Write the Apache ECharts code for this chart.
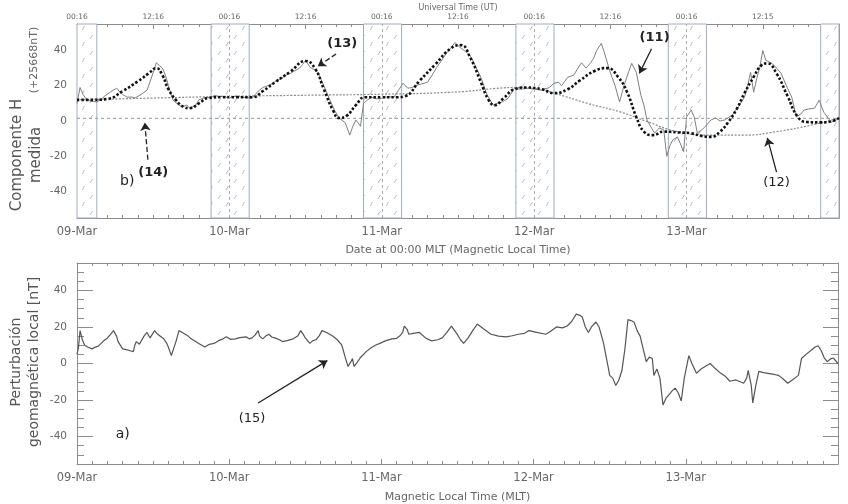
<!DOCTYPE html>
<html>
<head>
<meta charset="utf-8">
<script src="https://cdn.jsdelivr.net/npm/echarts@6/dist/echarts.min.js"></script>
<style>
  html, body { margin: 0; padding: 0; background: #fff; }
  #chart { width: 848px; height: 504px; }
</style>
</head>
<body>
<div id="chart"></div>
<script>
  // ejes
  var dias = ['09-Mar', '10-Mar', '11-Mar', '12-Mar', '13-Mar'];
  var horasUT = ['00:16', '12:16', '00:16', '12:16', '00:16', '12:16', '00:16', '12:16', '00:16', '12:15'];
  var ticksMayores = [-40, -20, 0, 20, 40];

  // franjas nocturnas (dias desde 09-Mar 00:00 MLT)
  var franjas = [[0, 0.13], [0.88, 1.13], [1.88, 2.13], [2.88, 3.13], [3.88, 4.13], [4.88, 5]];
  var medianoches = [1, 2, 3, 4];

  // (11) componente H medida
  var hMedida = [
    [0, 10], [0.02, 19], [0.04, 15], [0.06, 12.5], [0.08, 11.5], [0.11, 11], [0.13, 10.8], [0.16, 12.5],
    [0.18, 14], [0.22, 16.5], [0.26, 18.6], [0.28, 16.5], [0.3, 15], [0.33, 13.5], [0.36, 13.6], [0.38, 13],
    [0.42, 15], [0.46, 17.5], [0.49, 25], [0.51, 30], [0.52, 33], [0.54, 31.5], [0.56, 30], [0.58, 26],
    [0.6, 20], [0.63, 12], [0.66, 9.5], [0.69, 8], [0.72, 9], [0.74, 7.3], [0.78, 9], [0.8, 12],
    [0.83, 13], [0.85, 13.5], [0.88, 13], [0.9, 14.6], [0.93, 14], [0.96, 14], [0.99, 13.2], [1.02, 13.5],
    [1.05, 14.2], [1.08, 13.5], [1.12, 13.2], [1.15, 13], [1.17, 15], [1.19, 17], [1.22, 19], [1.25, 20],
    [1.28, 21], [1.31, 23], [1.34, 24], [1.37, 26], [1.4, 27], [1.42, 28], [1.46, 30], [1.48, 32],
    [1.5, 34.4], [1.53, 30.4], [1.56, 29], [1.58, 27.6], [1.62, 20], [1.66, 11.8], [1.69, 6], [1.72, 1.7],
    [1.76, -1], [1.79, -8], [1.81, -3], [1.83, 0.6], [1.86, -3], [1.88, 10], [1.9, 11.5], [1.93, 13.5],
    [1.97, 12.5], [2.0, 13], [2.04, 13.8], [2.08, 13.5], [2.11, 17.5], [2.14, 21.4], [2.17, 18.6], [2.2, 19],
    [2.22, 20], [2.26, 21], [2.3, 22], [2.33, 26], [2.36, 30.4], [2.39, 34], [2.42, 38], [2.45, 41],
    [2.48, 44.5], [2.51, 42], [2.54, 40], [2.57, 38], [2.59, 35.5], [2.62, 30], [2.65, 24.8], [2.69, 15],
    [2.73, 9], [2.76, 10], [2.79, 10.8], [2.83, 13], [2.87, 18.6], [2.91, 18], [2.96, 18.6], [3.0, 18],
    [3.05, 17.5], [3.1, 19], [3.13, 21.4], [3.16, 22], [3.18, 20], [3.22, 24.8], [3.26, 26], [3.28, 29],
    [3.31, 33], [3.34, 30], [3.37, 33], [3.39, 35.5], [3.41, 40], [3.44, 44], [3.46, 39], [3.49, 30],
    [3.51, 24.8], [3.53, 20.3], [3.56, 10.8], [3.59, 20.3], [3.62, 28], [3.64, 32.7], [3.67, 27.6], [3.7, 14.6],
    [3.72, 9], [3.74, 0.6], [3.77, -4], [3.79, -6.8], [3.82, -4], [3.85, -5], [3.87, -20], [3.89, -14],
    [3.91, -10.7], [3.94, -9], [3.96, -13], [3.98, -17.5], [4.0, 2.3], [4.03, 6.2], [4.05, 2.3], [4.07, -6.8],
    [4.1, -5], [4.12, -3.4], [4.16, 0.6], [4.19, 1.7], [4.22, 0], [4.25, 0.6], [4.3, 3.4], [4.34, 8],
    [4.38, 13.5], [4.4, 20], [4.42, 27.6], [4.44, 16.3], [4.46, 24], [4.48, 30.4], [4.5, 40], [4.52, 34.4],
    [4.56, 32.7], [4.59, 30], [4.62, 27], [4.66, 19], [4.69, 13.5], [4.72, 2.3], [4.75, 4], [4.77, 6.2],
    [4.8, 6.8], [4.84, 7.3], [4.87, 11.8], [4.9, 5], [4.93, 1.5], [4.95, -0.6], [4.98, 0.5], [5.0, 1.5]
  ];

  // (13) ajuste de la variacion diaria
  var hAjuste = [
    [0, 12], [0.1, 12], [0.2, 12.5], [0.3, 17], [0.4, 22.5], [0.47, 27], [0.52, 30], [0.56, 26],
    [0.6, 18], [0.65, 11.8], [0.7, 8], [0.74, 7.3], [0.8, 10], [0.86, 13], [0.95, 13.5], [1.05, 13.5],
    [1.15, 13.5], [1.22, 17], [1.3, 22], [1.4, 28], [1.5, 34], [1.56, 30], [1.62, 18], [1.68, 6],
    [1.72, 1.7], [1.77, 3], [1.83, 9], [1.89, 13.5], [2.0, 13.5], [2.1, 13.5], [2.15, 14], [2.25, 23],
    [2.35, 32], [2.45, 41], [2.52, 43], [2.58, 36], [2.65, 22], [2.7, 12], [2.74, 9], [2.8, 13],
    [2.87, 18], [2.95, 19], [3.05, 18], [3.13, 15.8], [3.22, 18], [3.3, 23], [3.4, 28.5], [3.48, 30],
    [3.55, 25], [3.61, 16.3], [3.67, 2.3], [3.72, -6], [3.78, -8], [3.85, -6], [3.95, -6.5], [4.03, -7],
    [4.1, -8.5], [4.16, -9], [4.22, -6], [4.27, -1], [4.33, 7], [4.38, 15.8], [4.44, 25], [4.49, 31.5],
    [4.53, 32.7], [4.59, 27], [4.66, 14.6], [4.73, 2.3], [4.79, -0.6], [4.88, -0.8], [4.95, -0.2], [5.0, 1.7]
  ];

  // (12) linea base lenta
  var hBase = [
    [0, 12], [0.5, 13], [1, 14], [1.5, 14.6], [2, 15.2], [2.5, 16.5], [2.75, 18.5], [2.9, 19],
    [3.0, 18.5], [3.13, 15.8], [3.35, 10], [3.57, 5], [3.73, 0], [3.94, -6], [4.16, -8], [4.38, -8],
    [4.59, -6], [4.82, -2.3], [5, 1.7]
  ];

  // (14) nivel de referencia
  var nivelCero = [[0, 1.5], [5, 1.5]];

  // (15) perturbacion geomagnetica local
  var perturbacion = [
    [0, 5], [0.01, 9], [0.02, 18], [0.035, 13], [0.05, 10], [0.07, 9], [0.1, 8], [0.12, 9], [0.14, 9.5],
    [0.17, 12], [0.2, 14], [0.22, 16], [0.24, 18], [0.26, 15], [0.27, 12], [0.3, 8], [0.33, 7.5],
    [0.35, 7], [0.37, 6.5], [0.38, 10], [0.39, 12], [0.41, 10.5], [0.42, 11], [0.44, 15], [0.46, 17],
    [0.48, 14], [0.49, 15], [0.51, 18], [0.53, 16], [0.54, 15], [0.57, 13.5], [0.59, 11], [0.6, 9],
    [0.62, 4.3], [0.63, 5], [0.65, 12], [0.67, 18], [0.7, 16.5], [0.73, 15], [0.75, 13.5], [0.78, 12],
    [0.8, 11], [0.82, 10], [0.84, 9], [0.87, 10.5], [0.9, 11], [0.93, 12.5], [0.96, 13.5], [0.98, 14.6],
    [1.01, 13.2], [1.04, 13.5], [1.07, 14.2], [1.11, 14.6], [1.13, 13.5], [1.15, 14], [1.17, 15.5], [1.19, 18],
    [1.2, 15], [1.22, 13.5], [1.24, 15], [1.26, 16], [1.28, 14.5], [1.3, 14], [1.33, 13], [1.35, 12],
    [1.38, 12.5], [1.42, 13.5], [1.45, 15], [1.47, 18], [1.49, 15.5], [1.5, 14], [1.53, 11], [1.55, 12.5],
    [1.57, 13], [1.59, 15], [1.61, 18], [1.64, 17], [1.68, 15], [1.71, 13], [1.74, 10], [1.76, 4],
    [1.78, -1.6], [1.8, 1], [1.81, 2.7], [1.82, -1.6], [1.84, 0.5], [1.86, 3], [1.9, 6.5], [1.93, 8.5],
    [1.96, 10], [1.99, 11], [2.03, 12.5], [2.07, 13.5], [2.1, 13.8], [2.12, 15], [2.14, 17], [2.15, 20.5],
    [2.17, 18.5], [2.18, 16], [2.21, 16.5], [2.25, 17], [2.29, 14], [2.33, 12.4], [2.37, 13], [2.4, 14],
    [2.43, 17], [2.46, 20.5], [2.49, 17], [2.52, 13], [2.54, 11], [2.57, 14], [2.6, 18], [2.63, 21.6],
    [2.67, 19], [2.72, 16], [2.77, 15], [2.82, 14.6], [2.86, 15.2], [2.9, 16], [2.94, 16.5], [2.97, 18],
    [3.02, 17], [3.08, 16], [3.11, 17.5], [3.15, 20], [3.19, 19.5], [3.22, 20.5], [3.25, 23], [3.28, 27],
    [3.3, 26.5], [3.32, 25.4], [3.34, 20], [3.36, 17], [3.38, 20], [3.41, 22.7], [3.43, 20], [3.44, 17],
    [3.46, 11], [3.47, 6.5], [3.49, -2], [3.5, -6.5], [3.52, -8], [3.54, -12], [3.56, -9], [3.58, -4],
    [3.6, 8], [3.62, 24], [3.64, 23.5], [3.66, 22.7], [3.68, 18], [3.7, 15], [3.72, 8], [3.74, 1],
    [3.76, 3.5], [3.78, 2.7], [3.79, -6.5], [3.81, -3], [3.83, -8], [3.85, -22.7], [3.87, -19], [3.89, -17],
    [3.91, -15], [3.93, -13.5], [3.95, -16], [3.97, -20.5], [3.99, -8], [4.02, 4.3], [4.04, 0], [4.07, -5.4],
    [4.1, -3], [4.13, -1.5], [4.16, 0], [4.19, -2.5], [4.23, -5.4], [4.26, -7], [4.29, -9.7], [4.33, -9],
    [4.38, -10.8], [4.4, -8], [4.41, -3.8], [4.43, -12], [4.44, -21.6], [4.46, -12], [4.48, -4.3], [4.51, -5],
    [4.54, -5.4], [4.58, -6], [4.61, -6.5], [4.64, -8.5], [4.67, -10.8], [4.7, -9], [4.74, -6.5], [4.76, 2.7],
    [4.79, 5], [4.82, 7], [4.85, 9], [4.87, 9.7], [4.89, 7], [4.91, 3], [4.93, 1], [4.95, 2.5], [4.97, 3], [5, 0]
  ];

  var gris = '#8c8c8c';
  var texto = '#666';
  var fuente = 'DejaVu Sans';

  function rayado() {
    var c = document.createElement('canvas');
    c.width = 16; c.height = 16;
    var g = c.getContext('2d');
    g.fillStyle = '#fff';
    g.fillRect(0, 0, 16, 16);
    g.strokeStyle = '#b4b9c9';
    g.lineWidth = 1;
    g.beginPath();
    g.moveTo(2, 14); g.lineTo(4.5, 10);
    g.moveTo(10, 7); g.lineTo(12.5, 3);
    g.stroke();
    return c;
  }

  function ejeX(grid, pos, extra) {
    var eje = {
      gridIndex: grid, type: 'value', position: pos, min: 0, max: 5, interval: 1,
      splitLine: { show: false },
      axisLine: { onZero: false, lineStyle: { color: gris } },
      axisTick: { inside: true, length: 5, lineStyle: { color: gris } },
      minorTick: { show: true, splitNumber: 10, length: 3, lineStyle: { color: gris } },
      axisLabel: { show: false }
    };
    return Object.assign(eje, extra || {});
  }

  function ejesY(grid) {
    var base = { gridIndex: grid, type: 'value', min: -55, max: 55, interval: 5, splitLine: { show: false } };
    return [
      Object.assign({}, base, {
        position: 'left',
        axisLine: { show: true, onZero: false, lineStyle: { color: gris } },
        axisTick: { inside: true, length: 7, lineStyle: { color: gris } },
        axisLabel: { customValues: ticksMayores, color: texto, fontSize: 10.5, fontFamily: fuente, margin: 10 }
      }),
      Object.assign({}, base, {
        position: 'left',
        axisLine: { show: false, onZero: false },
        axisTick: { inside: true, length: 16, customValues: ticksMayores, lineStyle: { color: gris } },
        axisLabel: { show: false }
      }),
      Object.assign({}, base, {
        position: 'right',
        axisLine: { show: true, onZero: false, lineStyle: { color: gris } },
        axisTick: { inside: true, length: 7, lineStyle: { color: gris } },
        axisLabel: { show: false }
      }),
      Object.assign({}, base, {
        position: 'right',
        axisLine: { show: false, onZero: false },
        axisTick: { inside: true, length: 15, customValues: ticksMayores, lineStyle: { color: gris } },
        axisLabel: { show: false }
      })
    ];
  }

  var etiquetaDia = {
    formatter: function (v) { return dias[Math.round(v)] || ''; },
    showMaxLabel: false, color: texto, fontSize: 11.5, fontFamily: fuente, margin: 8
  };

  function flecha(desde, hasta, tipo) {
    return [
      { coord: desde, lineStyle: { type: tipo, color: '#222', width: 1.3 } },
      { coord: hasta }
    ];
  }

  function rotulo(nombre, pos, peso, tam) {
    return {
      name: nombre, coord: pos,
      label: { fontWeight: peso, fontSize: tam || 13 }
    };
  }

  var marcaRotulos = {
    symbol: 'circle', symbolSize: 1, silent: true,
    itemStyle: { color: 'rgba(0,0,0,0)' },
    label: { show: true, position: 'inside', formatter: '{b}', color: '#222', fontFamily: fuente }
  };

  var chart = echarts.init(document.getElementById('chart'));
  chart.setOption({
    animation: false,
    backgroundColor: '#fff',
    grid: [
      { left: 77, top: 24, right: 9, height: 194 },
      { left: 77, top: 263, right: 10, height: 205 }
    ],
    xAxis: [
      ejeX(0, 'bottom', {
        axisLabel: etiquetaDia,
        name: 'Date at 00:00 MLT (Magnetic Local Time)', nameLocation: 'middle', nameGap: 27,
        nameTextStyle: { color: texto, fontSize: 11, fontFamily: fuente }
      }),
      ejeX(0, 'top', {
        interval: 0.5,
        minorTick: { show: true, splitNumber: 5, length: 3, lineStyle: { color: gris } },
        axisLabel: {
          formatter: function (v) { return horasUT[Math.round(v * 2)] || ''; },
          showMaxLabel: false, color: texto, fontSize: 7.5, fontFamily: fuente, margin: 3
        },
        name: 'Universal Time (UT)', nameLocation: 'middle', nameGap: 10,
        nameTextStyle: { color: texto, fontSize: 8, fontFamily: fuente }
      }),
      ejeX(1, 'bottom', {
        axisLabel: etiquetaDia,
        name: 'Magnetic Local Time (MLT)', nameLocation: 'middle', nameGap: 28,
        nameTextStyle: { color: texto, fontSize: 11, fontFamily: fuente }
      }),
      ejeX(1, 'top')
    ],
    yAxis: ejesY(0).concat(ejesY(1)),
    graphic: [
      {
        type: 'text', x: 27, y: 155, rotation: Math.PI / 2,
        style: { text: 'Componente H\nmedida', fill: '#555', font: '15px "DejaVu Sans"', align: 'center', verticalAlign: 'middle', lineHeight: 19 }
      },
      {
        type: 'text', x: 34, y: 60, rotation: Math.PI / 2,
        style: { text: '(+25668nT)', fill: '#666', font: '11px "DejaVu Sans"', align: 'center', verticalAlign: 'middle' }
      },
      {
        type: 'text', x: 25, y: 362, rotation: Math.PI / 2,
        style: { text: 'Perturbación\ngeomagnética local [nT]', fill: '#555', font: '14px "DejaVu Sans"', align: 'center', verticalAlign: 'middle', lineHeight: 18 }
      }
    ],
    series: [
      {
        name: '(14)', type: 'line', xAxisIndex: 0, yAxisIndex: 0, data: nivelCero, symbol: 'none', z: 1,
        lineStyle: { color: '#999', width: 1, type: [3, 3] },
        markArea: {
          silent: true,
          itemStyle: { color: { image: rayado(), repeat: 'repeat' }, opacity: 1, borderColor: '#a4abbd', borderWidth: 1 },
          data: franjas.map(function (f) { return [{ xAxis: f[0] }, { xAxis: f[1] }]; })
        },
        markLine: {
          silent: true, symbol: 'none', label: { show: false },
          lineStyle: { color: '#a4abbd', type: [3, 3], width: 1 },
          data: medianoches.map(function (d) { return { xAxis: d }; })
        }
      },
      {
        name: '(12)', type: 'line', xAxisIndex: 0, yAxisIndex: 0, data: hBase, symbol: 'none', smooth: true, z: 3,
        lineStyle: { color: '#8a8a8a', width: 1.2, type: [2, 1.5] }
      },
      {
        name: '(11)', type: 'line', xAxisIndex: 0, yAxisIndex: 0, data: hMedida, symbol: 'none', z: 3,
        lineStyle: { color: '#808080', width: 1 }
      },
      {
        name: '(13)', type: 'line', xAxisIndex: 0, yAxisIndex: 0, data: hAjuste, symbol: 'none', smooth: true, z: 4,
        lineStyle: { color: '#111', width: 2.6, type: [2.5, 2] },
        markLine: {
          silent: true, symbol: ['none', 'arrow'], symbolSize: 8, label: { show: false },
          data: [
            flecha([1.70, 38], [1.58, 31], 'dashed'),
            flecha([3.77, 41], [3.69, 27], 'solid'),
            flecha([0.465, -22], [0.445, -1], 'dashed'),
            flecha([4.59, -29], [4.53, -9.6], 'solid')
          ]
        },
        markPoint: Object.assign({}, marcaRotulos, {
          data: [
            rotulo('(13)', [1.74, 44], 'bold'),
            rotulo('(11)', [3.79, 47], 'bold'),
            rotulo('(14)', [0.5, -29], 'bold'),
            rotulo('(12)', [4.59, -35], 'normal'),
            rotulo('b)', [0.33, -34], 'normal', 14)
          ]
        })
      },
      {
        name: '(15)', type: 'line', xAxisIndex: 2, yAxisIndex: 4, data: perturbacion, symbol: 'none', z: 3,
        lineStyle: { color: '#555', width: 1.2 },
        markLine: {
          silent: true, symbol: ['none', 'arrow'], symbolSize: 8, label: { show: false },
          data: [flecha([1.19, -21.6], [1.645, 1.6], 'solid')]
        },
        markPoint: Object.assign({}, marcaRotulos, {
          data: [
            rotulo('(15)', [1.15, -30], 'normal'),
            rotulo('a)', [0.3, -39], 'normal', 14)
          ]
        })
      }
    ]
  });
</script>
</body>
</html>
